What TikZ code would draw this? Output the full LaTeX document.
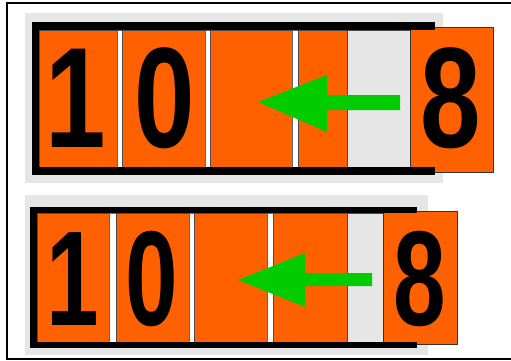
\documentclass[tikz,border=0pt]{standalone}
\usepackage{fontspec}
\setmainfont{Liberation Sans}
\definecolor{plateorange}{HTML}{FF6000}
\definecolor{panelgray}{HTML}{E6E6E6}
\definecolor{arrowgreen}{HTML}{00CC00}
\tikzset{
  panel/.style={fill=panelgray, draw=none},
  cell/.style={fill=plateorange, draw=black!70, line width=0.6pt},
  sep/.style={fill=white, draw=black!60, line width=0.6pt},
  emptycell/.style={fill=panelgray, draw=black!70, line width=0.6pt},
  bar/.style={fill=black, draw=none},
  plate/.style={fill=plateorange, draw=black!80, line width=0.8pt},
  arrowshape/.style={fill=arrowgreen, draw=none},
  digit/.style={anchor=base, inner sep=0pt, text=black}
}
\begin{document}
\begin{tikzpicture}[x=1pt,y=-1pt]
\useasboundingbox (0,0) rectangle (511,361);
\fill[white] (0,0) rectangle (511,361);
\draw[line width=1.2pt] (520,3) -- (7,3) -- (7,359) -- (520,359);

% ---------- top panel ----------
\fill[panel] (25,13) rectangle (443,183);
\draw[cell] (39,30) rectangle (117,167);
\draw[sep] (117,30) rectangle (122,167);
\draw[cell] (122,30) rectangle (205,167);
\draw[sep] (205,30) rectangle (210,167);
\draw[cell] (210,30) rectangle (292,167);
\draw[sep] (292,30) rectangle (298,167);
\draw[cell] (298,30) rectangle (347,167);
\draw[emptycell] (347,30) rectangle (410,167);
\draw[plate] (410,27) rectangle (493,172);
\fill[bar] (32,22) rectangle (435,30);
\fill[bar] (32,167) rectangle (435,175);
\fill[bar] (32,22) rectangle (39,175);
\fill[arrowshape] (400,95) -- (327,95) -- (327,75) -- (258,102) -- (327,132) -- (327,110) -- (400,110) -- cycle;
\node[digit] (t1) at (76,147) {\scalebox{0.76}[1]{\fontsize{143}{143}\selectfont\bfseries 1}};
\node[digit] (t0) at (165,147) {\scalebox{0.76}[1]{\fontsize{143}{143}\selectfont\bfseries 0}};
\node[digit] (t8) at (451,147) {\scalebox{0.76}[1]{\fontsize{143}{143}\selectfont\bfseries 8}};

% ---------- bottom panel ----------
\fill[panel] (25,195) rectangle (428,355);
\draw[cell] (37,213) rectangle (109,342);
\draw[sep] (109,213) rectangle (116,342);
\draw[cell] (116,213) rectangle (189,342);
\draw[sep] (189,213) rectangle (194,342);
\draw[cell] (194,213) rectangle (267,342);
\draw[sep] (267,213) rectangle (273,342);
\draw[cell] (273,213) rectangle (347,342);
\draw[emptycell] (347,213) rectangle (383,342);
\draw[plate] (383,211) rectangle (457,344);
\fill[bar] (30,207) rectangle (417,213);
\fill[bar] (30,342) rectangle (417,348);
\fill[bar] (30,207) rectangle (37,348);
\fill[arrowshape] (372,273) -- (305,273) -- (305,253) -- (238,280) -- (305,307) -- (305,286) -- (372,286) -- cycle;
\node[digit] (b1) at (73,325) {\scalebox{0.7}[1]{\fontsize{135}{135}\selectfont\bfseries 1}};
\node[digit] (b0) at (152,325) {\scalebox{0.7}[1]{\fontsize{135}{135}\selectfont\bfseries 0}};
\node[digit] (b8) at (420,325) {\scalebox{0.7}[1]{\fontsize{135}{135}\selectfont\bfseries 8}};
\end{tikzpicture}
\end{document}
